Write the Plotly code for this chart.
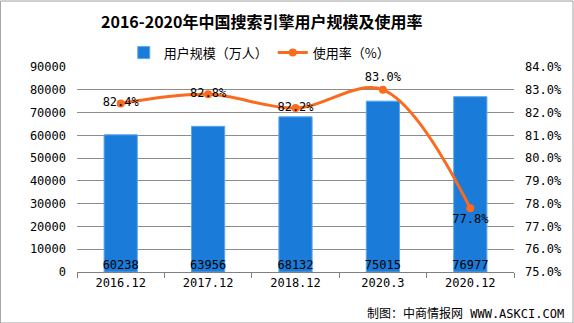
import plotly.graph_objects as go

categories = ["2016.12", "2017.12", "2018.12", "2020.3", "2020.12"]
users = [60238, 63956, 68132, 75015, 76977]
rate = [82.4, 82.8, 82.2, 83.0, 77.8]
rate_text_pos = ["middle center", "middle center", "middle center", "top center", "bottom center"]

FONT = "Noto Sans CJK SC"
NUMFONT = "DejaVu Sans Mono, Noto Sans CJK SC"

fig = go.Figure()
fig.add_trace(go.Bar(
    x=categories, y=users, name="用户规模（万人）",
    marker=dict(color="#1B7BD8", line=dict(color="#5AA8F0", width=1)),
    width=0.38, yaxis="y",
))
fig.add_trace(go.Scatter(
    x=categories, y=[0] * len(users), mode="text",
    text=[str(v) for v in users], textposition="top center",
    textfont=dict(family=NUMFONT, size=12, color="#000000"),
    showlegend=False, hoverinfo="skip", yaxis="y", cliponaxis=False,
))
fig.add_trace(go.Scatter(
    x=categories, y=rate, name="使用率（%）", yaxis="y2",
    mode="lines+markers+text",
    line=dict(color="#FA6B1E", width=3, shape="spline", smoothing=1),
    marker=dict(color="#FA6B1E", size=8),
    text=[f"{v:.1f}%" for v in rate], textposition=rate_text_pos,
    textfont=dict(family=NUMFONT, size=12, color="#000000"),
    cliponaxis=False,
))

fig.update_layout(
    width=574, height=323,
    margin=dict(l=77, r=60, t=67, b=51),
    paper_bgcolor="white", plot_bgcolor="white",
    font=dict(family=FONT, size=12, color="#000000"),
    title=dict(text="<b>2016-2020年中国搜索引擎用户规模及使用率</b>",
               x=0.456, xanchor="center", y=0.93, yanchor="middle",
               font=dict(family=FONT, size=16, color="#000000")),
    legend=dict(orientation="h", x=0.107, xanchor="left", y=1.07, yanchor="middle",
                font=dict(family=FONT, size=13), itemwidth=30, bgcolor="rgba(0,0,0,0)"),
    bargap=0.62,
    xaxis=dict(type="category", showline=True, linecolor="#808080", linewidth=1,
               ticks="outside", tickson="boundaries", ticklen=5, tickcolor="#808080",
               tickfont=dict(family=NUMFONT, size=12), showgrid=False),
    yaxis=dict(range=[0, 90000], dtick=10000, tickformat="d", showgrid=True, gridcolor="#8C8C8C",
               gridwidth=1, zeroline=False, showline=False,
               tickfont=dict(family=NUMFONT, size=12), ticklabelstandoff=10),
    yaxis2=dict(range=[75, 84], dtick=1, overlaying="y", side="right", showgrid=False,
                zeroline=False, showline=False, ticksuffix="%", tickformat=".1f",
                tickfont=dict(family=NUMFONT, size=12), ticklabelstandoff=10),
    annotations=[dict(text="制图：中商情报网 WWW.ASKCI.COM", xref="paper", yref="paper",
                      x=1.12, xanchor="right", y=-0.2, yanchor="middle", showarrow=False,
                      font=dict(family=NUMFONT, size=12, color="#000000"))],
    shapes=[dict(type="rect", xref="paper", yref="paper",
                 x0=-77/437 + 0.001, x1=1 + 59/437, y0=-51/205, y1=1 + 66/205,
                 line=dict(color="#A0A0A0", width=1))],
)

fig.write_html("out.html")
